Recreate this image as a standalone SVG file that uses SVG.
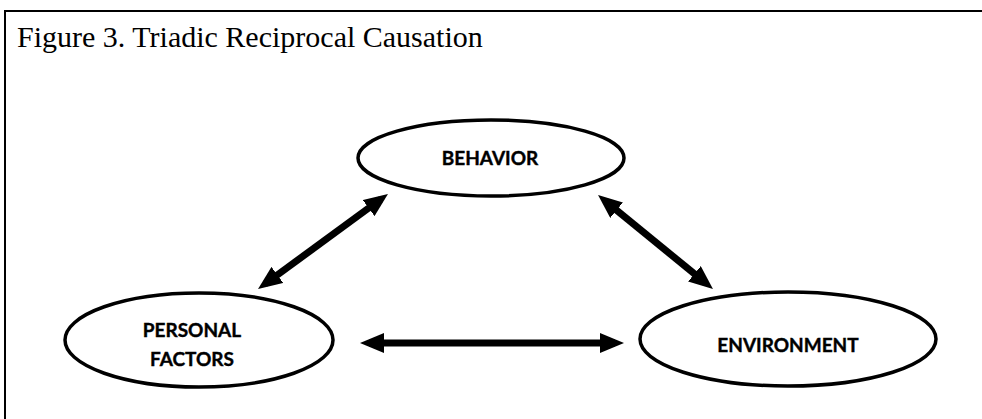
<svg xmlns="http://www.w3.org/2000/svg" width="982" height="419" viewBox="0 0 982 419">
  <style>
    .frame { fill: none; stroke: #000; stroke-width: 2; }
    .title { font-family: "Liberation Serif", "Times New Roman", serif; font-size: 30px; fill: #000; }
    .node ellipse { fill: #fff; stroke: #000; stroke-width: 3.5; }
    .node text { font-family: Lato, "Open Sans", "Liberation Sans", sans-serif; font-weight: 700; font-size: 19px; fill: #000; stroke: #000; stroke-width: 0.4; text-anchor: middle; }
    .conn line { stroke: #000; stroke-width: 7; marker-start: url(#head); marker-end: url(#head); }
  </style>
  <defs>
    <marker id="head" markerUnits="userSpaceOnUse" markerWidth="24" markerHeight="20" viewBox="0 0 24 20" refX="15" refY="10" orient="auto-start-reverse">
      <path d="M0,0 L24,10 L0,20 Z" fill="#000"/>
    </marker>
  </defs>
  <rect width="982" height="419" fill="#fff"/>
  <rect class="frame" x="5" y="11" width="990" height="420"/>
  <text class="title" x="17" y="47">Figure 3. Triadic Reciprocal Causation</text>

  <g class="conn" id="connectors">
    <line x1="265.3" y1="283.8" x2="380.7" y2="199.2"/>
    <line x1="605" y1="200.7" x2="706" y2="283.3"/>
    <line x1="369" y1="343" x2="615" y2="343"/>
  </g>

  <g class="node" id="behavior">
    <ellipse cx="491" cy="158" rx="133" ry="38"/>
    <text x="490" y="165">BEHAVIOR</text>
  </g>
  <g class="node" id="personal-factors">
    <ellipse cx="199" cy="340" rx="134" ry="47"/>
    <text x="192" y="337">PERSONAL</text>
    <text x="192" y="366">FACTORS</text>
  </g>
  <g class="node" id="environment">
    <ellipse cx="788" cy="339" rx="148" ry="47"/>
    <text x="788" y="352">ENVIRONMENT</text>
  </g>
</svg>
